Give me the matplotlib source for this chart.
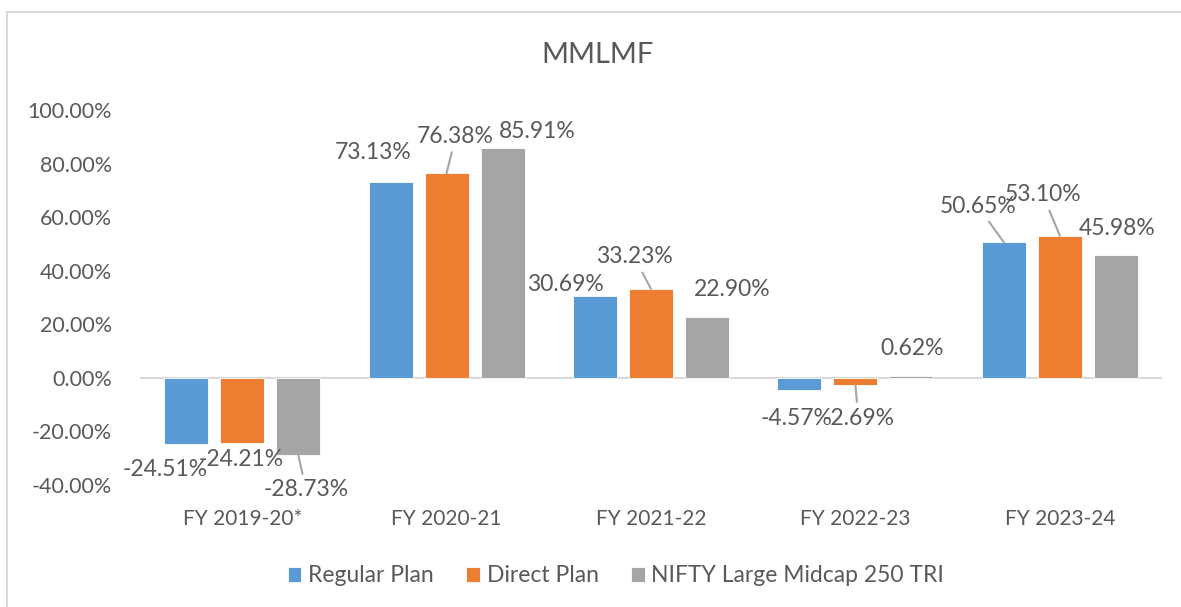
import matplotlib
matplotlib.use("Agg")
import matplotlib.pyplot as plt
import numpy as np
from matplotlib.patches import Rectangle

# ---- data ----
categories = ["FY 2019-20*", "FY 2020-21", "FY 2021-22", "FY 2022-23", "FY 2023-24"]
series_names = ["Regular Plan", "Direct Plan", "NIFTY Large Midcap 250 TRI"]
regular_plan = [-24.51, 73.13, 30.69, -4.57, 50.65]
direct_plan = [-24.21, 76.38, 33.23, -2.69, 53.10]
nifty_tri = [-28.73, 85.91, 22.90, 0.62, 45.98]
y_ticks = [-40, -20, 0, 20, 40, 60, 80, 100]
title = "MMLMF"

# ---- styles ----
colors = ["#5B9BD5", "#ED7D31", "#A5A5A5"]
text_color = "#595959"
font = ["Lato", "DejaVu Sans"]
plt.rcParams["font.family"] = font

# label offsets in pixels (dx, dy) relative to bar end, per series per category
label_offsets = [
    [(-21, -26), (-17, 29), (-30, 11), (-3, -28), (-26, 36)],
    [(-1, -17), (9, 37), (-17, 32), (3, -33), (-17, 41)],
    [(8, -35), (35, 16), (25, 27), (1, 28), (1, 26)],
]
leaders = [
    [False, False, False, False, True],
    [False, True, True, True, True],
    [True, False, False, False, False],
]
label_z = [6, 5, 5]

W, H, DPI = 1181, 607, 100
fig = plt.figure(figsize=(W / DPI, H / DPI), dpi=DPI)
fig.patch.set_facecolor("white")

ax = fig.add_axes([140 / W, 1 - 485 / H, (1162 - 140) / W, (485 - 110) / H])

series = [regular_plan, direct_plan, nifty_tri]
x = np.arange(len(categories))
width = 0.215
step = 0.274
for k, vals in enumerate(series):
    pos = x + (k - 1) * step
    ax.bar(pos, vals, width=width, color=colors[k], edgecolor="#FFFFFF",
           linewidth=0.6, label=series_names[k], zorder=2)
    for i, v in enumerate(vals):
        dx, dy = label_offsets[k][i]
        ap = None
        if leaders[k][i]:
            ap = dict(arrowstyle="-", color="#A6A6A6", lw=1.5, shrinkA=2, shrinkB=0)
        ax.annotate(f"{v:.2f}%", xy=(pos[i], v), xytext=(dx, dy),
                    textcoords="offset pixels", ha="center", va="center",
                    fontsize=16.5, color=text_color, arrowprops=ap, zorder=label_z[k],
                    annotation_clip=False)

ax.set_xlim(-0.5, len(categories) - 0.5)
ax.set_ylim(-40, 100)
ax.axhline(0, color="#D9D9D9", lw=1.5, zorder=1)
ax.set_yticks(y_ticks)
ax.set_yticklabels([f"{t:.2f}%" for t in y_ticks])
ax.set_xticks(x)
ax.set_xticklabels(categories)
ax.tick_params(axis="y", length=0, pad=20, labelsize=15.5, labelcolor=text_color)
ax.tick_params(axis="x", length=0, pad=17, labelsize=15, labelcolor=text_color)
for s in ax.spines.values():
    s.set_visible(False)
ax.set_facecolor("none")

# outer chart frame (partially visible)
fig.add_artist(Rectangle((7 / W, -0.2), 1.3, 1 - 12 / H + 0.2, transform=fig.transFigure,
                         fill=False, edgecolor="#D9D9D9", lw=1.5, zorder=0))

fig.text(598 / W, 1 - 55 / H, title, ha="center", va="center", fontsize=21,
         color=text_color)

handles, labels = ax.get_legend_handles_labels()
fig.legend(handles, labels, loc="center", bbox_to_anchor=(616 / W, 1 - 576 / H),
           ncol=3, frameon=False, fontsize=16.5, labelcolor=text_color,
           handlelength=0.6, handleheight=0.6, handletextpad=0.3, columnspacing=1.4)

fig.savefig("out.png", dpi=DPI)
